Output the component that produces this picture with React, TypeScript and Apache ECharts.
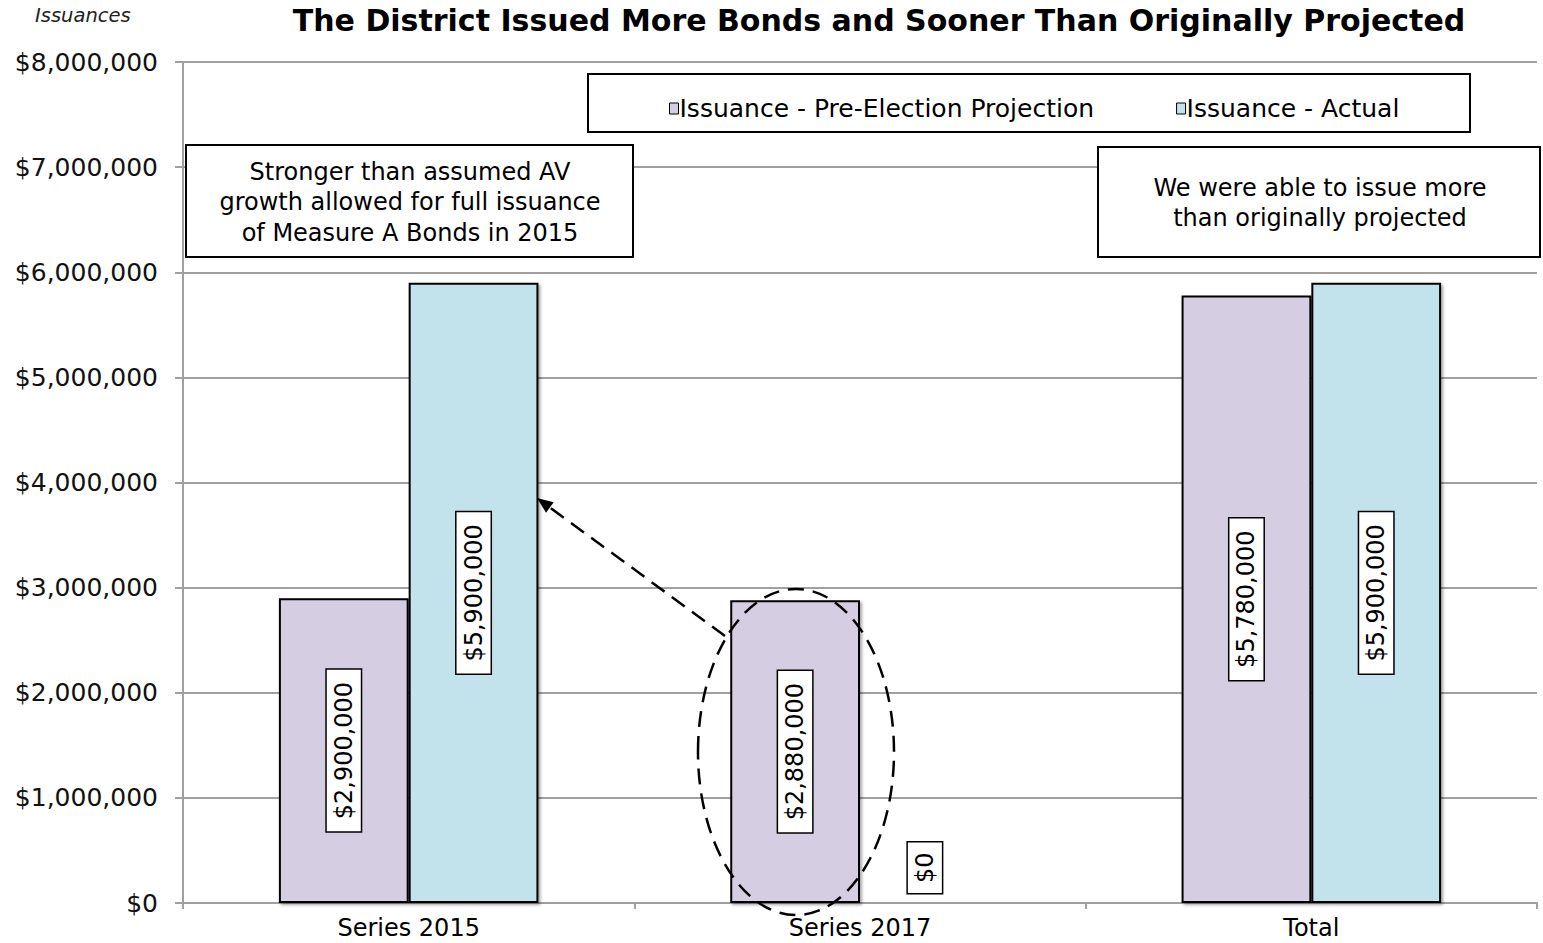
import React, { useEffect, useRef } from "react";
import * as echarts from "echarts";

const categories = ["Series 2015", "Series 2017", "Total"];
const projection = [2900000, 2880000, 5780000];
const actual = [5900000, 0, 5900000];
const seriesNames = ["Issuance - Pre-Election Projection", "Issuance - Actual"];
const yTicks = { min: 0, max: 8000000, interval: 1000000 };
const titleText = "The District Issued More Bonds and Sooner Than Originally Projected";
const note1 = "Stronger than assumed AV\ngrowth allowed for full issuance\nof Measure A Bonds in 2015";
const note2 = "We were able to issue more\nthan originally projected";

const FONT = "'DejaVu Sans', sans-serif";
const PURPLE = "#D5CDE1";
const BLUE = "#C3E3EC";

const fmt = (v: number) => "$" + Number(v).toLocaleString("en-US");

export default function App() {
  const ref = useRef<HTMLDivElement>(null);
  useEffect(() => {
    if (!ref.current) return;
    const chart = echarts.init(ref.current, undefined, { renderer: "svg" });

    const labelBase = {
      show: true,
      position: "inside",
      rotate: 90,
      formatter: (p: any) => fmt(p.value),
      fontFamily: FONT,
      fontSize: 24,
      color: "#000",
      backgroundColor: "#fff",
      borderColor: "#000",
      borderWidth: 1.5,
      padding: [6, 12, 4, 12],
    };
    const itemStyle = (color: string) => ({
      color,
      borderColor: "#000",
      borderWidth: 2,
      shadowColor: "rgba(0,0,0,0.35)",
      shadowBlur: 3,
      shadowOffsetX: 2,
      shadowOffsetY: 2,
    });

    const mkData = (arr: number[]) =>
      arr.map((v) =>
        v === 0
          ? {
              value: v,
              label: {
                position: "top",
                distance: 9,
                align: "left",
                verticalAlign: "middle",
                padding: [6, 10, 4, 10],
              },
            }
          : { value: v }
      );

    // arrow geometry
    const tail = [725, 636];
    const tip = [537, 498];
    const dx = tip[0] - tail[0];
    const dy = tip[1] - tail[1];
    const len = Math.sqrt(dx * dx + dy * dy);
    const ux = dx / len;
    const uy = dy / len;
    const hl = 16;
    const hw = 6.5;
    const bx = tip[0] - hl * ux;
    const by = tip[1] - hl * uy;
    const nx = -uy;
    const ny = ux;

    chart.setOption({
      animation: false,
      backgroundColor: "#fff",
      title: {
        text: titleText,
        left: 874,
        textAlign: "center",
        top: 0,
        textStyle: {
          fontFamily: FONT,
          fontWeight: "bold",
          fontSize: 30,
          color: "#000",
        },
      },
      legend: {
        data: seriesNames,
        left: 664,
        top: 91,
        itemGap: 82,
        itemWidth: 9,
        itemHeight: 11,
        icon: "rect",
        textStyle: { fontFamily: FONT, fontSize: 25, color: "#000", padding: [0, 0, 0, -4] },
        itemStyle: { borderColor: "#000", borderWidth: 1 },
      },
      grid: { left: 183, right: 6, top: 62, bottom: 40, containLabel: false },
      xAxis: {
        type: "category",
        data: categories,
        axisLine: { lineStyle: { color: "#A0A0A0", width: 2 } },
        axisTick: { show: true, length: 6, lineStyle: { color: "#A0A0A0", width: 2 } },
        axisLabel: { fontFamily: FONT, fontSize: 24, color: "#000", margin: 13 },
      },
      yAxis: {
        type: "value",
        min: yTicks.min,
        max: yTicks.max,
        interval: yTicks.interval,
        axisLine: { show: true, lineStyle: { color: "#A0A0A0", width: 2 } },
        axisTick: { show: true, length: 8, lineStyle: { color: "#A0A0A0", width: 2 } },
        splitLine: { lineStyle: { color: "#A0A0A0", width: 2 } },
        axisLabel: {
          fontFamily: FONT,
          fontSize: 25,
          color: "#111",
          margin: 25,
          formatter: (v: number) => fmt(v),
        },
      },
      series: [
        {
          name: seriesNames[0],
          type: "bar",
          data: mkData(projection),
          barGap: "0%",
          barCategoryGap: "42.5%",
          itemStyle: itemStyle(PURPLE),
          label: labelBase,
          z: 3,
        },
        {
          name: seriesNames[1],
          type: "bar",
          data: mkData(actual),
          itemStyle: itemStyle(BLUE),
          label: labelBase,
          z: 3,
        },
      ],
      graphic: [
        {
          type: "text",
          left: 35,
          top: 5,
          style: { text: "Issuances", font: `italic 19.5px ${FONT}`, fill: "#222" },
        },
        {
          type: "rect",
          shape: { x: 588, y: 74, width: 882, height: 58 },
          style: { fill: "#fff", stroke: "#000", lineWidth: 2 },
          z: 1,
        },
        {
          type: "rect",
          shape: { x: 186, y: 145, width: 447, height: 112 },
          style: { fill: "#fff", stroke: "#000", lineWidth: 2 },
          z: 10,
        },
        {
          type: "text",
          x: 410,
          y: 202,
          style: {
            text: note1,
            font: `24px ${FONT}`,
            lineHeight: 30.5,
            fill: "#000",
            align: "center",
            verticalAlign: "middle",
          },
          z: 11,
        },
        {
          type: "rect",
          shape: { x: 1098, y: 147, width: 442, height: 110 },
          style: { fill: "#fff", stroke: "#000", lineWidth: 2 },
          z: 10,
        },
        {
          type: "text",
          x: 1320,
          y: 203,
          style: {
            text: note2,
            font: `24px ${FONT}`,
            lineHeight: 30.5,
            fill: "#000",
            align: "center",
            verticalAlign: "middle",
          },
          z: 11,
        },
        {
          type: "ellipse",
          shape: { cx: 796, cy: 752, rx: 98, ry: 163 },
          style: { fill: "none", stroke: "#000", lineWidth: 2.5, lineDash: [16, 9] },
          z: 20,
        },
        {
          type: "line",
          shape: { x1: tail[0], y1: tail[1], x2: bx, y2: by },
          style: { stroke: "#000", lineWidth: 2.5, lineDash: [16, 9] },
          z: 20,
        },
        {
          type: "polygon",
          shape: {
            points: [
              [tip[0], tip[1]],
              [bx + hw * nx, by + hw * ny],
              [bx - hw * nx, by - hw * ny],
            ],
          },
          style: { fill: "#000" },
          z: 20,
        },
      ],
    });
    return () => chart.dispose();
  }, []);
  return (
    <div
      ref={ref}
      style={{ position: "absolute", left: 0, top: 0, width: 1543, height: 943 }}
    />
  );
}
